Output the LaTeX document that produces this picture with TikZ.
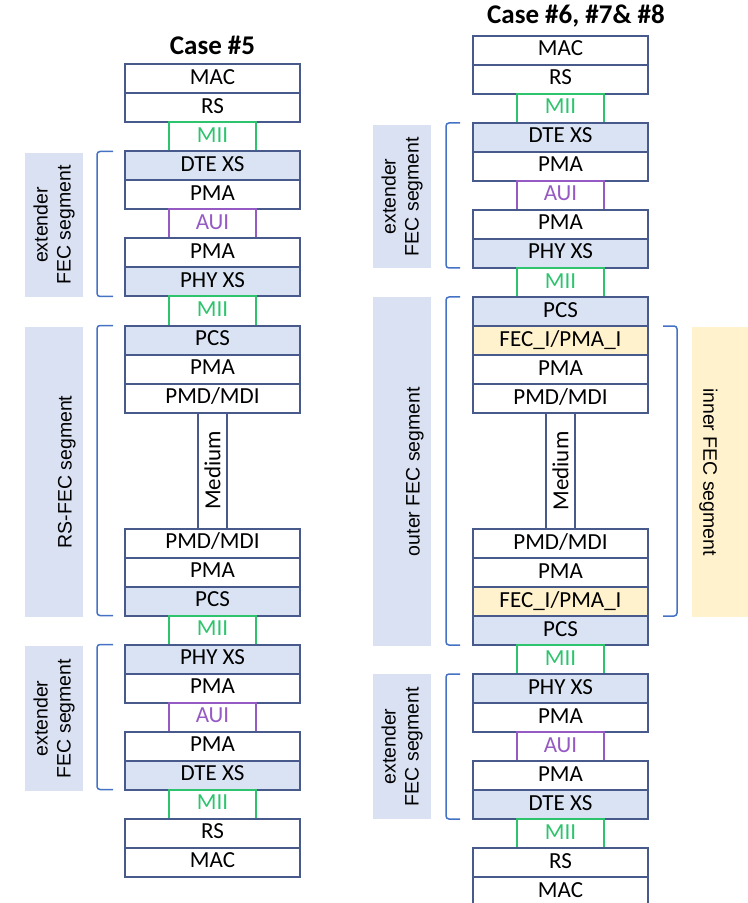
\documentclass[tikz,border=0pt]{standalone}
\usepackage{fontspec}
\setmainfont{Carlito}
\newfontfamily\labelfont{Liberation Sans}
\usetikzlibrary{positioning}

\definecolor{stackline}{RGB}{72,90,140}
\definecolor{sublayer}{RGB}{218,227,243}
\definecolor{segfill}{RGB}{218,225,242}
\definecolor{innerfill}{RGB}{255,242,204}
\definecolor{miigreen}{RGB}{46,196,110}
\definecolor{auipurple}{RGB}{150,90,196}
\definecolor{bracketblue}{RGB}{68,114,196}

\tikzset{
  base/.style={draw=stackline, line width=1pt, inner sep=0pt, outer sep=0pt,
    minimum height=14.5pt, font=\fontsize{11.5}{13}\selectfont},
  boxtext/.style={text height=8pt, text depth=2.5pt},
  plain/.style={base, boxtext, fill=white, minimum width=87.5pt},
  shaded/.style={plain, fill=sublayer},
  fecin/.style={plain, fill=innerfill},
  mii/.style={base, boxtext, draw=miigreen, text=miigreen, minimum width=43.5pt},
  aui/.style={base, boxtext, draw=auipurple, text=auipurple, minimum width=43.5pt},
  medium/.style={base, fill=white, minimum width=14.5pt, minimum height=58pt},
  segbox/.style={fill=segfill, inner sep=0pt, minimum height=29pt, align=center,
    text=black, font=\labelfont\fontsize{9.75}{11.5}\selectfont},
  segbracket/.style={draw=bracketblue, line width=0.75pt, rounded corners=1.5pt},
  casetitle/.style={font=\bfseries\fontsize{13.5}{16}\selectfont}
}

\begin{document}
\begin{tikzpicture}[x=0.5pt, y=-0.5pt]
\useasboundingbox (0,0) rectangle (748,903);

% Segment labels
\node[segbox, rotate=90, minimum width=72pt] (extL1) at (54,225) {extender\\FEC segment};
\node[segbox, rotate=90, minimum width=145pt] (rsfec) at (54,472) {\strut\\RS-FEC segment};
\node[segbox, rotate=90, minimum width=72.5pt] (extL2) at (54,718.5) {extender\\FEC segment};
\node[segbox, rotate=90, minimum width=71.5pt] (extR1) at (402,196.5) {extender\\FEC segment};
\node[segbox, rotate=90, minimum width=174.5pt] (outer) at (402,471.5) {\strut\\outer FEC segment};
\node[segbox, rotate=90, minimum width=72.5pt] (extR2) at (402,746.5) {extender\\FEC segment};
\node[segbox, fill=innerfill, rotate=-90, minimum width=145pt] (inner) at (721,472) {\strut\\inner FEC segment};

% Titles
\node[casetitle] (t5) at (212.5,45) {Case \#5};
\node[casetitle] (t678) at (576,16) {Case \#6, \#7\& \#8};

% Case 5 stack
\coordinate (ltop) at (212.5,64.5);
\foreach \nm/\txt/\kind [remember=\nm as \above (initially ltop)] in {
  l1/MAC/plain, l2/RS/plain, l3/MII/mii, l4/DTE XS/shaded, l5/PMA/plain,
  l6/AUI/aui, l7/PMA/plain, l8/PHY XS/shaded, l9/MII/mii, l10/PCS/shaded,
  l11/PMA/plain, l12/{PMD/MDI}/plain, l13/{\rotatebox{90}{Medium}}/medium,
  l14/{PMD/MDI}/plain, l15/PMA/plain, l16/PCS/shaded, l17/MII/mii,
  l18/PHY XS/shaded, l19/PMA/plain, l20/AUI/aui, l21/PMA/plain,
  l22/DTE XS/shaded, l23/MII/mii, l24/RS/plain, l25/MAC/plain}
  \node[\kind, below=0pt of \above] (\nm) {\txt};

% Case 6, 7, 8 stack
\coordinate (rtop) at (560.5,36);
\foreach \nm/\txt/\kind [remember=\nm as \above (initially rtop)] in {
  r1/MAC/plain, r2/RS/plain, r3/MII/mii, r4/DTE XS/shaded, r5/PMA/plain,
  r6/AUI/aui, r7/PMA/plain, r8/PHY XS/shaded, r9/MII/mii, r10/PCS/shaded,
  r11/{FEC\_I/PMA\_I}/fecin, r12/PMA/plain, r13/{PMD/MDI}/plain,
  r14/{\rotatebox{90}{Medium}}/medium,
  r15/{PMD/MDI}/plain, r16/PMA/plain, r17/{FEC\_I/PMA\_I}/fecin,
  r18/PCS/shaded, r19/MII/mii, r20/PHY XS/shaded, r21/PMA/plain,
  r22/AUI/aui, r23/PMA/plain, r24/DTE XS/shaded, r25/MII/mii,
  r26/RS/plain, r27/MAC/plain}
  \node[\kind, below=0pt of \above] (\nm) {\txt};

% Brackets
\draw[segbracket] ([xshift=-6pt]l4.north west) -- ++(-8pt,0) |- ([xshift=-6pt]l8.south west);
\draw[segbracket] ([xshift=-6pt]l10.north west) -- ++(-8pt,0) |- ([xshift=-6pt]l16.south west);
\draw[segbracket] ([xshift=-6pt]l18.north west) -- ++(-8pt,0) |- ([xshift=-6pt]l22.south west);
\draw[segbracket] ([xshift=-6.5pt]r4.north west) -- ++(-7pt,0) |- ([xshift=-6.5pt]r8.south west);
\draw[segbracket] ([xshift=-6.5pt]r10.north west) -- ++(-7pt,0) |- ([xshift=-6.5pt]r18.south west);
\draw[segbracket] ([xshift=-6.5pt]r20.north west) -- ++(-7pt,0) |- ([xshift=-6.5pt]r24.south west);
\draw[segbracket] ([xshift=7.5pt]r11.north east) -- ++(7pt,0) |- ([xshift=7.5pt]r17.south east);

\end{tikzpicture}
\end{document}
